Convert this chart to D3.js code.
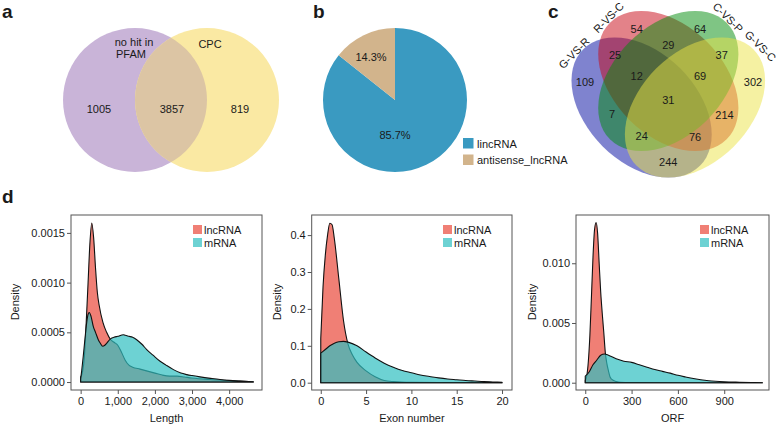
<!DOCTYPE html>
<html><head><meta charset="utf-8">
<script src="https://cdn.jsdelivr.net/npm/d3@7"></script>
<style>
body{margin:0;background:#fff;}
text{font-family:"Liberation Sans",Arial,Helvetica,sans-serif;fill:#1a1a1a;}
</style></head>
<body><svg id="chart" width="778" height="427" xmlns="http://www.w3.org/2000/svg"></svg>
<script>
// ---------------- DATA ----------------
// panel a: two-set Venn
const vennASets = ["no hit in|PFAM", "CPC"];
const vennACounts = [1005, 3857, 819]; // left only, both, right only

// panel b: pie
const pieLabels = ["lincRNA", "antisense_lncRNA"];
const pieValues = [85.7, 14.3];

// panel c: four-set Venn
const venn4Sets = ["G-VS-R", "R-VS-C", "C-VS-P", "G-VS-C"];
const venn4Regions = ["A","B","C","D","AB","BC","CD","ABC","BCD","ABCD","AC","BD","ACD","ABD","AD"];
const venn4Counts  = [109, 54, 64, 302, 25, 29, 37, 12, 69, 31, 7, 214, 24, 76, 244];

// panel d: densities
const seriesNames = ["lncRNA", "mRNA"];

const lengthLncX = [0,50,100,150,200,250,300,350,400,450,500,600,700,800,900,1000,1100,1200,1300,1400,1600,1800,2000,2200,2400,2600,2800,3000,3500,4000,4650];
const lengthLncY = [0.00005,0.0001,0.00025,0.0006,0.001,0.0014,0.0016,0.00145,0.00115,0.0009,0.00077,0.0006,0.0005,0.00043,0.0004,0.00037,0.0003,0.00022,0.00017,0.00015,0.00013,0.00011,0.00009,0.00007,0.00006,0.00006,0.00005,0.00004,0.000025,0.000015,0.000003];
const lengthMrnaX = [0,30,70,120,160,200,232,280,340,400,475,530,593,650,700,790,900,1000,1150,1200,1300,1400,1510,1650,1780,1950,2140,2300,2500,2700,2860,3000,3215,3500,3755,4000,4300,4650];
const lengthMrnaY = [0.00003,0.00012,0.00026,0.00045,0.00059,0.00068,0.0007,0.00066,0.00056,0.0005,0.000426,0.00039,0.00036,0.00037,0.00039,0.00043,0.00045,0.00046,0.000476,0.00047,0.00046,0.00045,0.000426,0.00038,0.000326,0.00027,0.000209,0.00017,0.000125,0.00009,0.000075,0.000065,0.000052,0.000037,0.000025,0.000017,0.00001,0.000003];

const exonLncX = [0,0.25,0.5,0.75,1,1.25,1.5,2,2.5,3,3.5,4,5,6,7,8,10,13,16,20];
const exonLncY = [0.12,0.26,0.345,0.40,0.432,0.428,0.39,0.28,0.17,0.105,0.075,0.055,0.032,0.016,0.006,0.003,0.001,0.0005,0.0002,0.0];
const exonMrnaX = [0,0.5,1,1.5,2,2.5,3,4,5,6,7,8,9,10,11,12,13,14,15,16,17,18,19,20];
const exonMrnaY = [0.08,0.09,0.1,0.107,0.111,0.112,0.11,0.1,0.083,0.067,0.053,0.042,0.033,0.027,0.021,0.017,0.013,0.010,0.008,0.006,0.0045,0.003,0.002,0.001];

const orfLncX = [0,10,20,30,40,50,60,70,80,90,100,110,120,130,140,150,160,170,200,225,300,600,1147];
const orfLncY = [0.0002,0.0006,0.0018,0.004,0.0072,0.0105,0.0128,0.0134,0.0125,0.01,0.0076,0.0058,0.0042,0.0025,0.0016,0.001,0.0005,0.0003,0.0001,0.00003,0.00001,0,0];
const orfMrnaX = [0,25,50,75,100,125,150,200,250,300,350,400,450,500,550,600,650,700,800,900,1000,1100,1147];
const orfMrnaY = [0.00055,0.0009,0.0015,0.0019,0.0023,0.0024,0.0023,0.0020,0.0018,0.0017,0.0015,0.0013,0.0011,0.00095,0.0008,0.00062,0.00048,0.00035,0.00017,0.00008,0.00004,0.00001,0.0];

const lengthTicks = [0,1000,2000,3000,4000];
const lengthYTicks = [0,0.0005,0.001,0.0015];
const exonTicks = [0,5,10,15,20];
const exonYTicks = [0,0.1,0.2,0.3,0.4];
const orfTicks = [0,300,600,900];
const orfYTicks = [0,0.005,0.01];

// ---------------- DRAW ----------------
const svg = d3.select("#chart");
const FONT = 11;

function panelLetter(t, x, y){
  svg.append("text").attr("x", x).attr("y", y).attr("font-size", 19)
     .attr("font-weight", "bold").attr("fill", "#000").text(t);
}
panelLetter("a", 2, 18);
panelLetter("b", 313, 18);
panelLetter("c", 548, 18);
panelLetter("d", 2, 203);

// ---- panel a ----
(function(){
  const r = 72, cy = 100, cxL = 135, cxR = 207;
  const defs = svg.append("defs");
  defs.append("clipPath").attr("id", "clipL").append("circle").attr("cx", cxL).attr("cy", cy).attr("r", r);
  svg.append("circle").attr("cx", cxL).attr("cy", cy).attr("r", r).attr("fill", "#C9B4D8");
  svg.append("circle").attr("cx", cxR).attr("cy", cy).attr("r", r).attr("fill", "#FAE9A3");
  svg.append("circle").attr("cx", cxR).attr("cy", cy).attr("r", r).attr("fill", "#DCC5A4").attr("clip-path", "url(#clipL)");
  const g = svg.append("g").attr("font-size", FONT).attr("text-anchor", "middle");
  const nm = vennASets[0].split("|");
  g.append("text").attr("x", 134).attr("y", 46).text(nm[0]);
  g.append("text").attr("x", 131).attr("y", 58).text(nm[1]);
  g.append("text").attr("x", 210).attr("y", 48).text(vennASets[1]);
  const xs = [99, 172, 240];
  vennACounts.forEach((c,i) => g.append("text").attr("x", xs[i]).attr("y", 113).text(c));
})();

// ---- panel b ----
(function(){
  const cx = 395, cy = 100, r = 72;
  const colors = ["#3A9AC1", "#D2B48C"];
  const arcs = d3.pie().sort(null)(pieValues);
  const arc = d3.arc().innerRadius(0).outerRadius(r);
  const g = svg.append("g").attr("transform", `translate(${cx},${cy})`);
  g.selectAll("path").data(arcs).enter().append("path").attr("d", arc)
    .attr("fill", (d,i) => colors[i]);
  const lblPos = [[0, 39], [-24, -39]];
  arcs.forEach((d,i) => g.append("text").attr("x", lblPos[i][0]).attr("y", lblPos[i][1])
      .attr("font-size", FONT).attr("text-anchor", "middle").text(pieValues[i].toFixed(1) + "%"));
  const lg = svg.append("g").attr("transform", "translate(463,138)");
  pieLabels.forEach((l,i) => {
    lg.append("rect").attr("x", 0).attr("y", i*16.5).attr("width", 10.5).attr("height", 10.5).attr("fill", colors[i]);
    lg.append("text").attr("x", 14).attr("y", i*16.5 + 9.5).attr("font-size", FONT).text(l);
  });
})();

// ---- panel c ----
(function(){
  // four congruent ellipses (layout in pixels)
  const ell = [
    {x:641.6, y:107.5, rot:45,  col:"rgb(0,8,160)"},
    {x:668.3, y:81,    rot:45,  col:"rgb(200,5,20)"},
    {x:668.3, y:81,    rot:-45, col:"rgb(0,140,10)"},
    {x:695.0, y:107.5, rot:-45, col:"rgb(235,228,70)"}
  ];
  const RX = 82.5, RY = 55;
  const g = svg.append("g");
  ell.forEach(e => g.append("ellipse").attr("cx", e.x).attr("cy", e.y).attr("rx", RX).attr("ry", RY)
      .attr("transform", `rotate(${e.rot},${e.x},${e.y})`).attr("fill", e.col).attr("fill-opacity", 0.5));
  const pos = {A:[585,82],B:[636.7,28.5],C:[700,28.5],D:[753,82],AB:[615,55],BC:[668.3,45],
    CD:[721.7,55],ABC:[636.7,76],BCD:[700,76],ABCD:[668.3,100],AC:[612,113.5],BD:[724.5,114.5],
    ACD:[641.7,135.5],ABD:[695,136.5],AD:[668.3,161.5]};
  const tg = svg.append("g").attr("font-size", FONT).attr("text-anchor", "middle");
  venn4Regions.forEach((k,i) => {
    tg.append("text").attr("x", pos[k][0]).attr("y", pos[k][1] + 4).text(venn4Counts[i]);
  });
  const lab = [[574,53,-45],[608.5,17.5,-45],[728,17.5,45],[760.5,46,45]];
  venn4Sets.forEach((s,i) => tg.append("text")
     .attr("transform", `translate(${lab[i][0]},${lab[i][1]}) rotate(${lab[i][2]})`)
     .attr("y", 4).text(s));
})();

// ---- panel d ----
const fillCols = ["#F07F75", "#2FBFC1"];
function densityPlot(o){
  const x = d3.scaleLinear().domain(o.xd).range([o.l, o.r]);
  const y = d3.scaleLinear().domain(o.yd).range([o.b, o.t]);
  const g = svg.append("g");
  const area = d3.area().x(d => x(d[0])).y0(y(0)).y1(d => y(d[1])).curve(d3.curveMonotoneX);
  o.series.forEach((s,i) => {
    const pts = s[0].map((v,j) => [v, s[1][j]]);
    g.append("path").attr("d", area(pts))
      .attr("fill", fillCols[i]).attr("fill-opacity", i === 0 ? 1 : 0.7)
      .attr("stroke", "#111").attr("stroke-width", 1.1).attr("stroke-linejoin", "round");
  });
  g.append("rect").attr("x", o.l).attr("y", o.t).attr("width", o.r - o.l).attr("height", o.b - o.t)
    .attr("fill", "none").attr("stroke", "#555").attr("stroke-width", 1);
  const xa = g.append("g").attr("transform", `translate(0,${o.b})`)
    .call(d3.axisBottom(x).tickValues(o.xt).tickSize(4).tickPadding(3).tickFormat(o.xf));
  const ya = g.append("g").attr("transform", `translate(${o.l},0)`)
    .call(d3.axisLeft(y).tickValues(o.yt).tickSize(4).tickPadding(2).tickFormat(o.yf));
  [xa, ya].forEach(a => {
    a.select(".domain").remove();
    a.selectAll(".tick line").attr("stroke", "#555");
    a.selectAll(".tick text").attr("font-size", FONT).attr("fill", "#1a1a1a")
      .attr("font-family", '"Liberation Sans",Arial,sans-serif');
  });
  g.append("text").attr("x", (o.l + o.r)/2).attr("y", 422).attr("text-anchor", "middle")
    .attr("font-size", FONT).text(o.xlab);
  g.append("text").attr("transform", `translate(${o.dx},302) rotate(-90)`).attr("text-anchor", "middle")
    .attr("font-size", FONT).text("Density");
  const lg = g.append("g").attr("transform", `translate(${o.r - 69},225)`);
  seriesNames.forEach((n,i) => {
    lg.append("rect").attr("x", 0).attr("y", i*13).attr("width", 9).attr("height", 9)
      .attr("fill", fillCols[i]).attr("fill-opacity", i === 0 ? 1 : 0.7);
    lg.append("text").attr("x", 11).attr("y", i*13 + 8.5).attr("font-size", FONT).text(n);
  });
}
const comma = d3.format(",");
densityPlot({l:71, r:262, t:215, b:390, xd:[-260, 4885], yd:[-0.00008, 0.00168],
  xt:lengthTicks, yt:lengthYTicks, xf:comma, yf:d3.format(".4f"), xlab:"Length", dx:19,
  series:[[lengthLncX, lengthLncY],[lengthMrnaX, lengthMrnaY]]});
densityPlot({l:311.7, r:512, t:215, b:390, xd:[-1, 21.1], yd:[-0.0198, 0.4545],
  xt:exonTicks, yt:exonYTicks, xf:d3.format("d"), yf:d3.format(".1f"), xlab:"Exon number", dx:281,
  series:[[exonLncX, exonLncY],[exonMrnaX, exonMrnaY]]});
densityPlot({l:576, r:769, t:215, b:390, xd:[-60, 1190], yd:[-0.00061, 0.01404],
  xt:orfTicks, yt:orfYTicks, xf:d3.format("d"), yf:d3.format(".3f"), xlab:"ORF", dx:536,
  series:[[orfLncX, orfLncY],[orfMrnaX, orfMrnaY]]});
</script>
</body></html>
